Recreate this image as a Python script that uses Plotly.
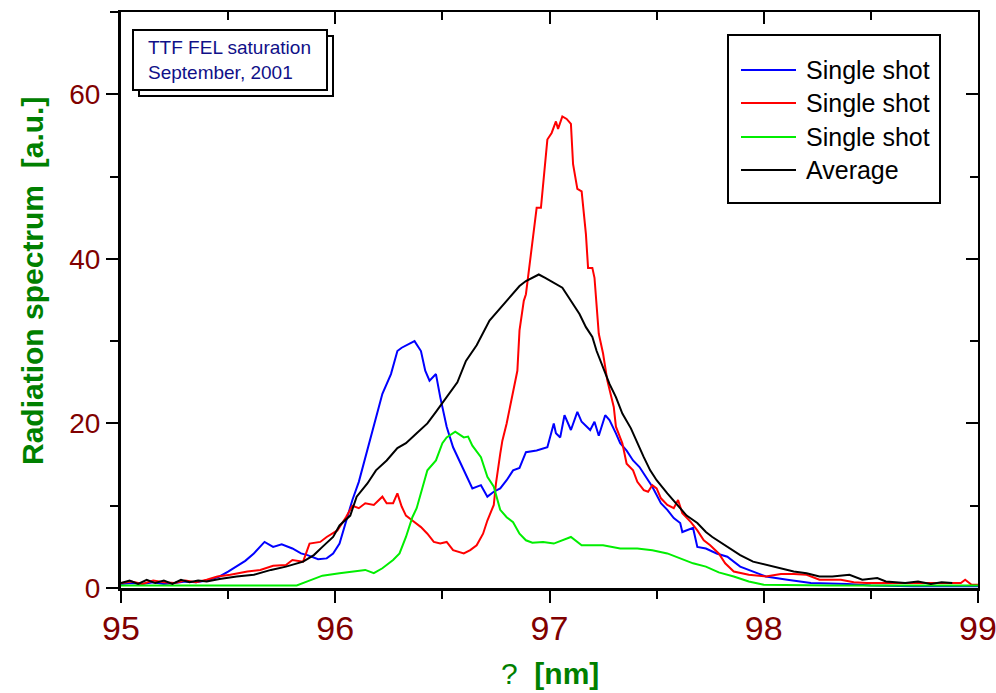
import plotly.graph_objects as go

# ---------------- data ----------------
blue_x = [95.00, 95.05, 95.10, 95.15, 95.20, 95.25, 95.30, 95.35, 95.40, 95.46,
          95.50, 95.54, 95.58, 95.62, 95.67, 95.71, 95.75, 95.80, 95.84, 95.87,
          95.92, 95.96, 95.99, 96.02, 96.05, 96.08, 96.11, 96.14, 96.18, 96.22,
          96.26, 96.29, 96.31, 96.33, 96.35, 96.37, 96.40, 96.42, 96.44, 96.47,
          96.49, 96.52, 96.55, 96.58, 96.61, 96.64, 96.68, 96.71, 96.74, 96.77,
          96.80, 96.83, 96.86, 96.89, 96.94, 96.99, 97.02, 97.03, 97.05, 97.07,
          97.10, 97.13, 97.15, 97.19, 97.21, 97.23, 97.26, 97.28, 97.31, 97.33,
          97.36, 97.39, 97.42, 97.45, 97.48, 97.52, 97.55, 97.58, 97.61, 97.62,
          97.67, 97.69, 97.73, 97.78, 97.83, 97.89, 97.97, 98.01, 98.11, 98.22,
          98.39, 98.50, 98.70, 99.00]
blue_y = [0.5, 0.6, 0.5, 0.7, 0.5, 0.6, 0.8, 0.7, 0.9, 1.4,
          2.0, 2.6, 3.3, 4.2, 5.6, 5.0, 5.3, 4.8, 4.2, 4.0,
          3.5, 3.6, 4.2, 5.4, 8.2, 10.7, 12.9, 15.9, 19.6, 23.6,
          26.0, 28.8, 29.2, 29.5, 29.8, 30.0, 28.8, 26.4, 25.2, 26.0,
          23.2, 19.6, 17.1, 15.5, 13.9, 12.1, 12.5, 11.1, 11.7, 12.1,
          13.1, 14.3, 14.6, 16.5, 16.7, 17.1, 20.0, 18.8, 18.3, 21.0,
          19.2, 21.4, 20.2, 19.2, 20.2, 18.5, 21.0, 20.4, 18.8, 17.6,
          16.7, 15.5, 14.7, 13.5, 12.3, 10.3, 9.5, 8.5, 7.9, 6.8,
          7.3, 5.0, 4.8, 4.2, 3.8, 2.6, 1.8, 1.4, 1.0, 0.6,
          0.5, 0.3, 0.2, 0.2]

red_x = [95.00, 95.05, 95.10, 95.15, 95.20, 95.25, 95.30, 95.35, 95.40, 95.45,
         95.51, 95.59, 95.65, 95.71, 95.77, 95.80, 95.85, 95.88, 95.93, 95.96,
         96.01, 96.05, 96.08, 96.11, 96.14, 96.18, 96.22, 96.24, 96.27, 96.29,
         96.31, 96.33, 96.36, 96.40, 96.43, 96.46, 96.49, 96.52, 96.55, 96.60,
         96.63, 96.66, 96.69, 96.71, 96.74, 96.75, 96.77, 96.78, 96.80, 96.83,
         96.85, 96.86, 96.88, 96.89, 96.92, 96.94, 96.96, 96.99, 97.01, 97.03,
         97.04, 97.06, 97.08, 97.10, 97.11, 97.13, 97.15, 97.17, 97.18, 97.20,
         97.21, 97.23, 97.25, 97.27, 97.30, 97.31, 97.34, 97.36, 97.39, 97.41,
         97.44, 97.46, 97.48, 97.50, 97.52, 97.55, 97.58, 97.60, 97.62, 97.66,
         97.69, 97.72, 97.75, 97.79, 97.82, 97.86, 97.93, 98.01, 98.08, 98.14,
         98.20, 98.26, 98.36, 98.42, 98.48, 98.70, 98.92, 98.94, 98.97, 99.00]
red_y = [0.6, 0.8, 0.5, 0.9, 0.7, 0.6, 0.9, 0.7, 1.0, 1.4,
         1.6, 2.0, 2.2, 2.7, 2.8, 3.4, 3.2, 5.4, 5.6, 6.2,
         7.0, 8.6, 10.0, 9.7, 10.3, 10.1, 11.1, 10.3, 10.3, 11.5,
         9.9, 8.8, 8.2, 7.4, 6.6, 5.6, 5.4, 5.6, 4.6, 4.2,
         4.6, 5.2, 6.6, 8.2, 10.1, 12.7, 16.3, 17.9, 20.0, 23.6,
         26.4, 31.3, 34.9, 35.7, 41.8, 46.2, 46.2, 54.5, 55.3, 56.7,
         55.8, 57.3, 57.0, 56.4, 51.5, 48.5, 48.2, 43.0, 38.9, 38.9,
         37.7, 30.9, 28.5, 25.2, 22.0, 19.6, 17.6, 15.1, 14.3, 12.9,
         11.9, 11.7, 12.5, 12.1, 10.9, 10.1, 9.7, 10.7, 9.1, 8.0,
         7.0, 5.8, 5.2, 4.2, 3.0, 2.0, 1.6, 1.4, 1.7, 1.7,
         1.6, 1.0, 1.0, 0.7, 0.6, 0.6, 0.6, 1.0, 0.4, 0.4]

green_x = [95.00, 95.20, 95.40, 95.60, 95.82, 95.87, 95.94, 96.02, 96.08, 96.14,
           96.18, 96.22, 96.27, 96.30, 96.33, 96.36, 96.38, 96.41, 96.43, 96.47,
           96.50, 96.52, 96.56, 96.60, 96.62, 96.64, 96.68, 96.71, 96.74, 96.77,
           96.80, 96.83, 96.86, 96.89, 96.92, 96.97, 97.02, 97.10, 97.15, 97.25,
           97.33, 97.41, 97.48, 97.55, 97.61, 97.67, 97.73, 97.79, 97.86, 97.93,
           98.00, 98.30, 98.70, 99.00]
green_y = [0.3, 0.3, 0.3, 0.3, 0.3, 0.8, 1.5, 1.8, 2.0, 2.2,
           1.8, 2.4, 3.4, 4.2, 6.2, 8.6, 9.7, 12.3, 14.3, 15.5,
           17.6, 18.3, 19.0, 18.3, 18.4, 17.3, 15.9, 13.5, 12.3, 9.5,
           8.6, 8.0, 6.6, 5.8, 5.5, 5.6, 5.4, 6.2, 5.2, 5.2,
           4.8, 4.8, 4.6, 4.2, 3.6, 3.0, 2.6, 1.9, 1.4, 0.8,
           0.4, 0.3, 0.3, 0.3]

avg_x = [95.00, 95.04, 95.08, 95.12, 95.16, 95.20, 95.24, 95.28, 95.32, 95.36,
         95.40, 95.46, 95.54, 95.62, 95.70, 95.77, 95.85, 95.90, 95.94, 95.99,
         96.02, 96.07, 96.10, 96.15, 96.19, 96.24, 96.29, 96.33, 96.38, 96.43,
         96.47, 96.52, 96.57, 96.61, 96.66, 96.72, 96.77, 96.82, 96.86, 96.89,
         96.92, 96.95, 96.98, 97.02, 97.06, 97.08, 97.11, 97.14, 97.17, 97.20,
         97.22, 97.25, 97.28, 97.31, 97.34, 97.38, 97.41, 97.44, 97.47, 97.50,
         97.55, 97.59, 97.64, 97.69, 97.73, 97.76, 97.83, 97.89, 97.95, 98.01,
         98.08, 98.14, 98.20, 98.26, 98.32, 98.40, 98.46, 98.53, 98.57, 98.66,
         98.72, 98.78, 98.83, 98.88]
avg_y = [0.6, 0.9, 0.5, 1.0, 0.6, 0.9, 0.5, 1.0, 0.7, 0.9,
         0.8, 1.1, 1.4, 1.6, 2.2, 2.6, 3.2, 4.0, 5.0, 6.2,
         7.6, 8.8, 11.1, 12.7, 14.3, 15.5, 17.0, 17.6, 18.8, 20.0,
         21.4, 23.2, 25.0, 27.6, 29.5, 32.5, 34.0, 35.5, 36.7, 37.3,
         37.7, 38.1, 37.7, 37.1, 36.5, 35.7, 34.5, 33.3, 31.7, 30.5,
         28.8, 26.8, 24.8, 23.2, 21.2, 19.4, 17.6, 15.9, 14.3, 13.1,
         11.5, 10.3, 8.8, 7.9, 6.8, 6.2, 5.0, 4.0, 3.2, 2.8,
         2.4, 2.0, 1.8, 1.4, 1.4, 1.6, 1.0, 1.2, 0.8, 0.6,
         0.8, 0.5, 0.7, 0.6]

series_names = ["Single shot", "Single shot", "Single shot", "Average"]
series_colors = ["#0000ff", "#ff0000", "#00ee00", "#000000"]
series_x = [blue_x, red_x, green_x, avg_x]
series_y = [blue_y, red_y, green_y, avg_y]

x_range = [95, 99]
y_range = [0, 70]
x_ticks = [95, 96, 97, 98, 99]
y_ticks = [0, 20, 40, 60]
note_lines = ["TTF FEL saturation", "September, 2001"]

# ---------------- layout geometry ----------------
W, H = 996, 693
ML, MR, MT, MB = 121, 18, 12, 105
PW, PH = W - ML - MR, H - MT - MB


def px(xp):
    return (xp - ML) / PW


def py(yp):
    return (H - MB - yp) / PH


TICK_RED = "#800000"
GREEN = "#008000"
FONT = "Liberation Sans, Arial, sans-serif"

fig = go.Figure()
for xs, ys, c, n in zip(series_x, series_y, series_colors, series_names):
    fig.add_trace(go.Scatter(x=xs, y=ys, mode="lines", name=n,
                             line=dict(color=c, width=2), showlegend=False,
                             hoverinfo="skip"))

# invisible trace to host the mirrored (inside-tick) top/right axes
fig.add_trace(go.Scatter(x=x_range, y=y_range, xaxis="x2", yaxis="y2",
                         mode="lines", line=dict(width=0), opacity=0,
                         showlegend=False, hoverinfo="skip"))

fig.update_layout(
    width=W, height=H,
    margin=dict(l=ML, r=MR, t=MT, b=MB, pad=0, autoexpand=False),
    paper_bgcolor="white", plot_bgcolor="white",
    font=dict(family=FONT, color="black"),
    showlegend=False,
    xaxis=dict(range=x_range, tickvals=x_ticks, ticktext=[str(v) for v in x_ticks],
               ticks="outside", ticklen=12, tickwidth=2, tickcolor="black",
               showline=True, linewidth=3, linecolor="black", automargin=False,
               showgrid=False, zeroline=False, ticklabeloverflow="allow",
               ticklabelstandoff=-4,
               tickfont=dict(family=FONT, size=34, color=TICK_RED),
               minor=dict(dtick=0.5, tick0=95, ticks="outside", ticklen=8,
                          tickwidth=2, tickcolor="black", showgrid=False)),
    yaxis=dict(range=y_range, tickvals=y_ticks,
               ticks="outside", ticklen=12, tickwidth=2, tickcolor="black",
               showline=True, linewidth=3, linecolor="black", automargin=False,
               showgrid=False, zeroline=False, ticklabeloverflow="allow",
               tickfont=dict(family=FONT, size=28, color=TICK_RED),
               minor=dict(dtick=10, tick0=0, ticks="outside", ticklen=8,
                          tickwidth=2, tickcolor="black", showgrid=False)),
    xaxis2=dict(range=x_range, overlaying="x", side="top", anchor="y",
                tickvals=x_ticks, showticklabels=False, automargin=False,
                ticks="inside", ticklen=12, tickwidth=2, tickcolor="black",
                showline=True, linewidth=2, linecolor="black",
                showgrid=False, zeroline=False,
                minor=dict(dtick=0.5, tick0=95, ticks="inside", ticklen=8,
                           tickwidth=2, tickcolor="black", showgrid=False)),
    yaxis2=dict(range=y_range, overlaying="y", side="right", anchor="x",
                tickvals=y_ticks, showticklabels=False, automargin=False,
                ticks="inside", ticklen=12, tickwidth=2, tickcolor="black",
                showline=True, linewidth=2, linecolor="black",
                showgrid=False, zeroline=False,
                minor=dict(dtick=10, tick0=0, ticks="inside", ticklen=8,
                           tickwidth=2, tickcolor="black", showgrid=False)),
)

shapes = []
annotations = []

# --- note box with shadow ---
bx0, bx1, by0, by1 = 133, 327, 30, 90
sh = 6
shapes.append(dict(type="rect", xref="paper", yref="paper",
                   x0=px(bx0 + sh), x1=px(bx1 + sh), y0=py(by1 + sh), y1=py(by0 + sh),
                   line=dict(color="black", width=2), fillcolor="white", layer="above"))
shapes.append(dict(type="rect", xref="paper", yref="paper",
                   x0=px(bx0), x1=px(bx1), y0=py(by1), y1=py(by0),
                   line=dict(color="black", width=2), fillcolor="white", layer="above"))
annotations.append(dict(xref="paper", yref="paper", x=px(146), y=py(60),
                        xanchor="left", yanchor="middle", align="left",
                        text="<br>".join(note_lines), showarrow=False,
                        font=dict(family=FONT, size=19, color="#101088")))

# --- legend box ---
lx0, lx1, ly0, ly1 = 728, 940, 35, 203
shapes.append(dict(type="rect", xref="paper", yref="paper",
                   x0=px(lx0), x1=px(lx1), y0=py(ly1), y1=py(ly0),
                   line=dict(color="black", width=2), fillcolor="white", layer="above"))
row_y = [70, 103, 137, 170]
for ry, c, n in zip(row_y, series_colors, series_names):
    shapes.append(dict(type="line", xref="paper", yref="paper",
                       x0=px(741), x1=px(796), y0=py(ry), y1=py(ry),
                       line=dict(color=c, width=2), layer="above"))
    annotations.append(dict(xref="paper", yref="paper", x=px(804), y=py(ry),
                            xanchor="left", yanchor="middle", text=n,
                            showarrow=False,
                            font=dict(family=FONT, size=25, color="black")))

# --- axis titles ---
annotations.append(dict(xref="paper", yref="paper", x=px(32), y=py(281),
                        xanchor="center", yanchor="middle", textangle=-90,
                        text="<b>Radiation spectrum  [a.u.]</b>", showarrow=False,
                        font=dict(family=FONT, size=30, color=GREEN)))
annotations.append(dict(xref="paper", yref="paper", x=px(550), y=py(673),
                        xanchor="center", yanchor="middle",
                        text="?  <b>[nm]</b>", showarrow=False,
                        font=dict(family=FONT, size=30, color=GREEN)))

fig.update_layout(shapes=shapes, annotations=annotations)
fig.write_html("out.html")
